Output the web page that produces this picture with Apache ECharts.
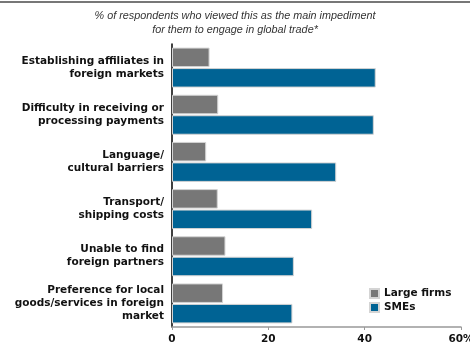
<!DOCTYPE html>
<html><head><meta charset="utf-8">
<script src="https://cdn.jsdelivr.net/npm/echarts@6/dist/echarts.min.js"></script>
<style>html,body{margin:0;padding:0;background:#fff}#c{width:470px;height:343px}</style>
</head><body><div id="c"></div>
<script>
var categories = [
  "Establishing affiliates in\nforeign markets",
  "Difficulty in receiving or\nprocessing payments",
  "Language/\ncultural barriers",
  "Transport/\nshipping costs",
  "Unable to find\nforeign partners",
  "Preference for local\ngoods/services in foreign\nmarket"
];
var largeFirms = [7.8, 9.6, 7.1, 9.5, 11.1, 10.6];
var smes = [42.3, 41.9, 34.1, 29.1, 25.3, 25.0];
var xTicks = [0, 20, 40, 60];

var chart = echarts.init(document.getElementById('c'), null, {renderer: 'canvas'});
chart.setOption({
  animation: false,
  graphic: [
    {type: 'rect', left: 0, top: 1, shape: {width: 470, height: 2}, style: {fill: '#777'}},
    {type: 'text', left: 'center', top: 9, style: {
      text: '% of respondents who viewed this as the main impediment\nfor them to engage in global trade*',
      font: 'italic 10.8px "Liberation Sans", Arial, sans-serif', fill: '#333', textAlign: 'center', lineHeight: 14
    }}
  ],
  legend: {
    orient: 'vertical', left: 369, top: 288, padding: 0, itemWidth: 9, itemHeight: 9, itemGap: 3,
    icon: 'rect',
    textStyle: {fontFamily: 'DejaVu Sans', fontWeight: 'bold', fontSize: 10.5, color: '#111'},
    data: ['Large firms', 'SMEs']
  },
  grid: {left: 172, right: 9, top: 44, bottom: 16, containLabel: false, outerBoundsMode: 'none'},
  xAxis: {
    type: 'value', min: 0, max: 60, interval: 20,
    axisLine: {show: true, lineStyle: {color: '#999', width: 1.5}},
    axisTick: {show: true, length: 3, lineStyle: {color: '#999'}},
    splitLine: {show: false},
    axisLabel: {fontFamily: 'DejaVu Sans', fontWeight: 'bold', fontSize: 10.5, color: '#111', margin: 7,
      formatter: function(v){ return v === 60 ? '60%' : String(v); }}
  },
  yAxis: {
    type: 'category', data: categories, inverse: true,
    axisLine: {show: true, lineStyle: {color: '#000', width: 1.5}},
    axisTick: {show: false},
    axisLabel: {fontFamily: 'DejaVu Sans', fontWeight: 'bold', fontSize: 10.5, color: '#111', margin: 8, lineHeight: 13, align: 'right'}
  },
  series: [
    {name: 'Large firms', type: 'bar', data: largeFirms, barWidth: 19.5, barGap: '5%',
      itemStyle: {color: '#777777', borderColor: '#d4d4d4', borderWidth: 1}},
    {name: 'SMEs', type: 'bar', data: smes, barWidth: 19.5,
      itemStyle: {color: '#006394', borderColor: '#d4d4d4', borderWidth: 1}}
  ]
});
</script></body></html>
